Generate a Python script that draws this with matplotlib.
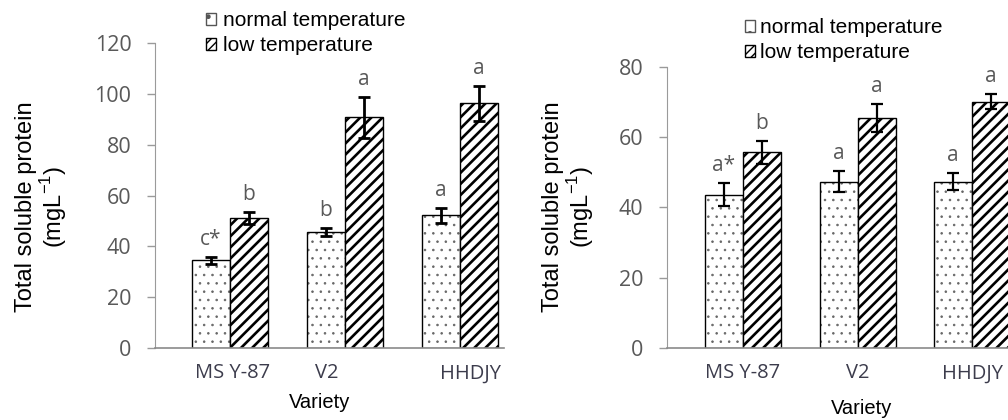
import numpy as np
import matplotlib
matplotlib.use('Agg')
import matplotlib.pyplot as plt

plt.rcParams['font.family'] = ['Liberation Sans', 'DejaVu Sans']
plt.rcParams['mathtext.fontset'] = 'custom'
plt.rcParams['mathtext.rm'] = 'Liberation Sans'

# 数据
varieties = ['MS Y-87', 'V2', 'HHDJY']
series = ['normal temperature', 'low temperature']

# 左图
left_normal = [34.5, 45.5, 52.2]
left_normal_err = [1.5, 1.6, 3.0]
left_low = [51.0, 90.7, 96.2]
left_low_err = [2.4, 8.0, 7.0]
left_letters_normal = ['c*', 'b', 'a']
left_letters_low = ['b', 'a', 'a']

# 右图
right_normal = [43.6, 47.3, 47.3]
right_normal_err = [3.3, 3.0, 2.5]
right_low = [55.7, 65.3, 70.1]
right_low_err = [3.3, 4.0, 2.2]
right_letters_normal = ['a*', 'a', 'a']
right_letters_low = ['b', 'a', 'a']

W, H = 1008, 420
grey = '#595959'
tick_font = 'Open Sans'


def draw_panel(ax, normal, nerr, low, lerr, let_n, let_l, ymax, xlim, label_shift, lw_err):
    x = np.arange(len(varieties))
    w = 0.332
    # 点状填充（细灰点）
    with plt.rc_context({'hatch.linewidth': 0.6}):
        ax.bar(x - w / 2, normal, w, color='white', edgecolor='#666666', hatch='..',
               linewidth=0)
    b1 = ax.bar(x - w / 2, normal, w, color='none', edgecolor='black', linewidth=1.0)
    # 斜线填充
    with plt.rc_context({'hatch.linewidth': 1.9}):
        b2 = ax.bar(x + w / 2, low, w, color='white', edgecolor='black', hatch='///',
                    linewidth=1.0)
    ax.errorbar(x - w / 2, normal, yerr=nerr, fmt='none', ecolor='black',
                elinewidth=lw_err, capsize=4, capthick=lw_err)
    ax.errorbar(x + w / 2, low, yerr=lerr, fmt='none', ecolor='black',
                elinewidth=lw_err, capsize=4, capthick=lw_err)

    # 显著性字母
    for i in range(len(x)):
        ax.annotate(let_n[i], (x[i] - w / 2, normal[i] + nerr[i]), xytext=(0, 5),
                    textcoords='offset points', ha='center', va='bottom',
                    color=grey, fontsize=15, family=tick_font, annotation_clip=False)
        ax.annotate(let_l[i], (x[i] + w / 2, low[i] + lerr[i]), xytext=(0, 5),
                    textcoords='offset points', ha='center', va='bottom',
                    color=grey, fontsize=15, family=tick_font, annotation_clip=False)

    ax.set_xlim(*xlim)
    ax.set_ylim(0, ymax)
    ax.set_yticks(np.arange(0, ymax + 1, 20))
    ax.set_xticks(x + np.array(label_shift))
    ax.set_xticklabels(varieties, family=tick_font, fontsize=14.5, color='#3c3c4c')
    for t in ax.get_yticklabels():
        t.set_family(tick_font)
        t.set_fontsize(15.5)
        t.set_color(grey)
    ax.tick_params(axis='x', length=0, pad=11)
    ax.tick_params(axis='y', length=6, width=1, color='#9a9a9a', pad=11)
    for s in ['top', 'right']:
        ax.spines[s].set_visible(False)
    ax.spines['left'].set_color('#9a9a9a')
    ax.spines['bottom'].set_color('#8a8a8a')
    ax.spines['bottom'].set_linewidth(1.2)
    return b1, b2


fig = plt.figure(figsize=(W / 100, H / 100), dpi=100)

# 左图坐标轴
ax1 = fig.add_axes([155 / W, (H - 348) / H, 349 / W, 305 / H])
h1 = draw_panel(ax1, left_normal, left_normal_err, left_low, left_low_err,
                left_letters_normal, left_letters_low, 120, (-0.652, 2.383),
                [0.02, -0.16, 0.09], 2.0)

# 右图坐标轴
ax2 = fig.add_axes([667 / W, (H - 348) / H, 341 / W, 281.3 / H])
h2 = draw_panel(ax2, right_normal, right_normal_err, right_low, right_low_err,
                right_letters_normal, right_letters_low, 80, (-0.664, 2.314),
                [0.0, 0.0, 0.0], 1.6)

ylab = 'Total soluble protein\n(mgL$^{-1}$)'
fig.text(42 / W, 1 - 207 / H, ylab, rotation=90, ha='center', va='center',
         fontsize=17, multialignment='center', linespacing=1.02)
fig.text(569 / W, 1 - 207 / H, ylab, rotation=90, ha='center', va='center',
         fontsize=17, multialignment='center', linespacing=1.02)
fig.text(320 / W, 1 - 402 / H, 'Variety', ha='center', va='center', fontsize=14.5)
fig.text(862 / W, 1 - 408 / H, 'Variety', ha='center', va='center', fontsize=14.5)

# 图例（使用带填充的柱作为句柄）
leg_handles = [plt.Rectangle((0, 0), 1, 1, facecolor='white', edgecolor='#555555',
                             hatch='.', linewidth=1.0),
               plt.Rectangle((0, 0), 1, 1, facecolor='white', edgecolor='black',
                             hatch='////', linewidth=1.0)]
fig.legend(handles=leg_handles, labels=series, loc='upper left',
           bbox_to_anchor=(206 / W, 1 - 11 / H), frameon=False, fontsize=15,
           handlelength=0.5, handleheight=0.5, handletextpad=0.3,
           labelspacing=0.3, borderpad=0, borderaxespad=0)
fig.legend(handles=leg_handles, labels=series, loc='upper left',
           bbox_to_anchor=(745 / W, 1 - 18 / H), frameon=False, fontsize=15,
           handlelength=0.5, handleheight=0.5, handletextpad=0.2,
           labelspacing=0.3, borderpad=0, borderaxespad=0)

fig.savefig('out.png', dpi=100)
